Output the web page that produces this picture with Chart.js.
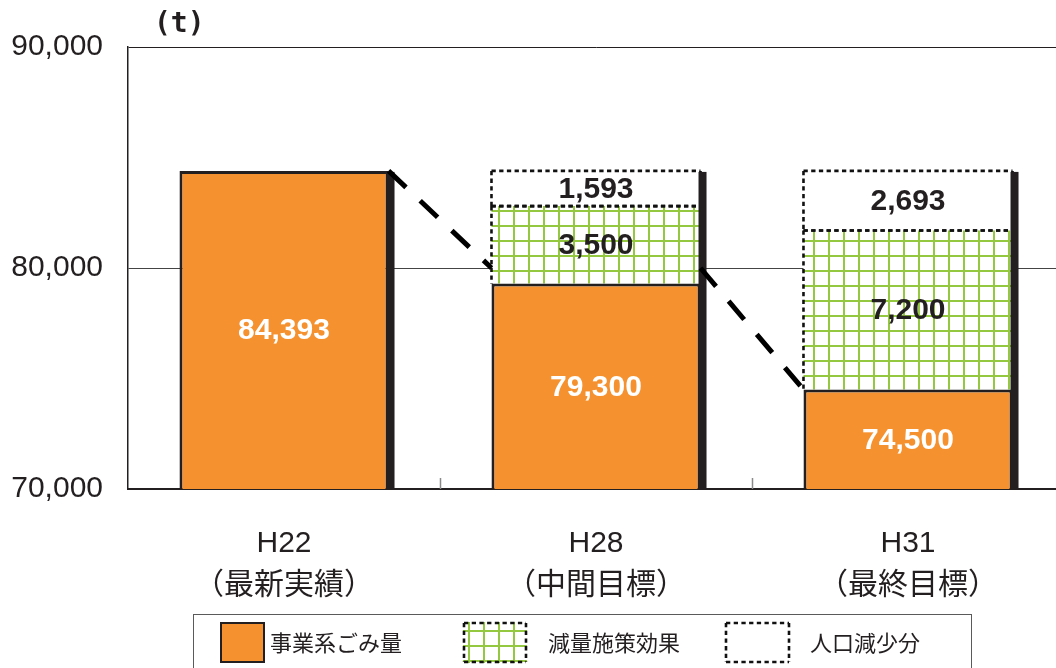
<!DOCTYPE html>
<html>
<head>
<meta charset="utf-8">
<script src="https://cdn.jsdelivr.net/npm/chart.js@4/dist/chart.umd.min.js"></script>
<style>
  html, body { margin: 0; padding: 0; background: #fff; overflow: hidden; }
  #wrap { position: relative; width: 1066px; height: 668px; }
</style>
</head>
<body>
<div id="wrap"><canvas id="c"></canvas></div>
<script>
// Categories (year + target type)
const categories = [['H22', '（最新実績）'], ['H28', '（中間目標）'], ['H31', '（最終目標）']];
// Stacked series values (t)
const wasteAmount = [84393, 79300, 74500];
const reductionEffect = [null, 3500, 7200];
const populationDecrease = [null, 1593, 2693];
// Trend connector: value at the right of one bar -> value at the left of the next
const trendFrom = [84393, 80000];
const trendTo = [80000, 74500];
// Axis
const yMin = 70000, yMax = 90000, yStep = 10000;
const seriesNames = ['事業系ごみ量', '減量施策効果', '人口減少分'];
const unitLabel = '(t)';

const INK = '#231F20';
const ORANGE = '#F5922F';
const GREEN = '#94C840';
const LATIN = "'Liberation Sans', Arial, 'Noto Sans CJK JP', sans-serif";
const CJK = "'Noto Sans CJK JP', 'Liberation Sans', sans-serif";

const canvas = document.getElementById('c');
const ctx0 = canvas.getContext('2d');

// Green square-grid fill
function makeGridPattern() {
  const t = document.createElement('canvas');
  t.width = 15; t.height = 15;
  const g = t.getContext('2d');
  g.fillStyle = '#fff';
  g.fillRect(0, 0, 15, 15);
  g.fillStyle = GREEN;
  g.fillRect(3, 0, 2, 15);
  g.fillRect(0, 0, 15, 2);
  return ctx0.createPattern(t, 'repeat');
}
const gridFill = makeGridPattern();

function dashedLine(ctx, x1, y1, x2, y2) {
  ctx.beginPath();
  ctx.moveTo(x1, y1);
  ctx.lineTo(x2, y2);
  ctx.stroke();
}

function dashedBox(ctx, l, t, r, b, skipBottom) {
  ctx.save();
  ctx.strokeStyle = '#111';
  ctx.lineWidth = 2.6;
  ctx.setLineDash([4.3, 3.4]);
  dashedLine(ctx, l, t, r, t);
  if (!skipBottom) dashedLine(ctx, l, b, r, b);
  dashedLine(ctx, l, t, l, b);
  dashedLine(ctx, r, t, r, b);
  ctx.restore();
}

const SHADOW = 6;

const decorations = {
  id: 'decorations',
  afterDatasetsDraw(chart) {
    const ctx = chart.ctx;
    const area = chart.chartArea;
    const yScale = chart.scales.y;
    const xScale = chart.scales.x;
    const metas = chart.data.datasets.map((d, i) => chart.getDatasetMeta(i));

    ctx.save();
    ctx.beginPath();
    ctx.rect(area.left, area.top - 4, area.right - area.left + 10, area.bottom - area.top + 4);
    ctx.clip();

    // dashed outlines on the green and white segments
    chart.data.datasets.forEach((ds, di) => {
      if (!ds.dashedBorder) return;
      metas[di].data.forEach((el, i) => {
        if (ds.data[i] == null) return;
        const p = el.getProps(['x', 'y', 'base', 'width'], true);
        const b = Math.min(p.base, area.bottom);
        dashedBox(ctx, p.x - p.width / 2, p.y, p.x + p.width / 2, b, di === 1);
      });
    });

    // dark edge on the right of each whole stack
    categories.forEach((c, i) => {
      let top = Infinity, right = 0;
      metas.forEach((m, di) => {
        if (chart.data.datasets[di].data[i] == null) return;
        const p = m.data[i].getProps(['x', 'y', 'width'], true);
        top = Math.min(top, p.y);
        right = p.x + p.width / 2;
      });
      ctx.fillStyle = INK;
      ctx.fillRect(right - 2, top + 1, SHADOW + 2, area.bottom - top - 1);
    });
    ctx.restore();

    // short inner ticks between categories
    const step = xScale.getPixelForValue(1) - xScale.getPixelForValue(0);
    ctx.save();
    ctx.strokeStyle = '#8a8a8a';
    ctx.lineWidth = 1.5;
    categories.forEach((c, i) => {
      const x = Math.round(xScale.getPixelForValue(i) + step / 2) + 0.5;
      if (x >= chart.width) return;
      ctx.beginPath();
      ctx.moveTo(x, area.bottom - 11);
      ctx.lineTo(x, area.bottom);
      ctx.stroke();
    });
    ctx.restore();

    // trend connectors
    ctx.save();
    ctx.strokeStyle = '#000';
    ctx.lineWidth = 5;
    ctx.lineCap = 'butt';
    ctx.setLineDash([24, 19.5]);
    trendFrom.forEach((v, i) => {
      const a = metas[0].data[i].getProps(['x', 'width'], true);
      const b = metas[0].data[i + 1].getProps(['x', 'width'], true);
      const x1 = a.x + a.width / 2;
      const x2 = b.x - b.width / 2;
      dashedLine(ctx, x1, yScale.getPixelForValue(v), x2, yScale.getPixelForValue(trendTo[i]));
    });
    ctx.restore();

    // value labels
    ctx.save();
    ctx.font = "bold 30px " + LATIN;
    ctx.textAlign = 'center';
    ctx.textBaseline = 'middle';
    chart.data.datasets.forEach((ds, di) => {
      metas[di].data.forEach((el, i) => {
        const v = ds.data[i];
        if (v == null) return;
        const p = el.getProps(['x', 'y', 'base'], true);
        const b = Math.min(p.base, area.bottom);
        ctx.fillStyle = di === 0 ? '#fff' : INK;
        ctx.fillText(v.toLocaleString('en-US'), p.x, (p.y + b) / 2 + 1);
      });
    });
    ctx.restore();
  },
  afterDraw(chart) {
    const ctx = chart.ctx;
    const area = chart.chartArea;
    ctx.save();
    // unit
    ctx.fillStyle = INK;
    ctx.font = "bold 28px 'DejaVu Sans Mono', monospace";
    ctx.textAlign = 'left';
    ctx.textBaseline = 'middle';
    ctx.fillText(unitLabel, area.left + 26, 25);

    // legend box
    ctx.strokeStyle = '#5a5a5a';
    ctx.lineWidth = 1;
    ctx.strokeRect(193.5, 614.5, 778, 60);

    const sw = [
      { l: 220, r: 265, tx: 270 },
      { l: 463, r: 527, tx: 548 },
      { l: 725, r: 790, tx: 810 }
    ];
    const st = 622, sb = 663;
    // orange swatch
    ctx.fillStyle = ORANGE;
    ctx.fillRect(sw[0].l, st, sw[0].r - sw[0].l, sb - st);
    ctx.strokeStyle = INK;
    ctx.lineWidth = 2;
    ctx.strokeRect(sw[0].l + 1, st + 1, sw[0].r - sw[0].l - 2, sb - st - 2);
    // green swatch
    ctx.fillStyle = gridFill;
    ctx.fillRect(sw[1].l, st, sw[1].r - sw[1].l, sb - st);
    ctx.restore();
    ctx.save();
    dashedBox(ctx, sw[1].l + 1, st + 1, sw[1].r - 1, sb - 1, false);
    // white swatch
    dashedBox(ctx, sw[2].l + 1, st + 1, sw[2].r - 1, sb - 1, false);
    ctx.fillStyle = INK;
    ctx.font = "22px " + CJK;
    ctx.textAlign = 'left';
    ctx.textBaseline = 'middle';
    seriesNames.forEach((n, i) => ctx.fillText(n, sw[i].tx, 643));
    ctx.restore();
  }
};

new Chart(canvas, {
  type: 'bar',
  data: {
    labels: categories,
    datasets: [
      { label: seriesNames[0], data: wasteAmount, backgroundColor: ORANGE, borderColor: INK,
        borderWidth: 3, borderSkipped: false },
      { label: seriesNames[1], data: reductionEffect, backgroundColor: gridFill, borderWidth: 0,
        dashedBorder: true },
      { label: seriesNames[2], data: populationDecrease, backgroundColor: '#fff', borderWidth: 0,
        dashedBorder: true }
    ]
  },
  options: {
    responsive: true,
    maintainAspectRatio: false,
    animation: false,
    events: [],
    layout: { padding: { top: 47, right: 2, bottom: 0, left: 0 } },
    datasets: { bar: { barPercentage: 0.67, categoryPercentage: 1 } },
    plugins: { legend: { display: false }, tooltip: { enabled: false }, title: { display: false } },
    scales: {
      x: {
        stacked: true,
        grid: { display: false },
        border: { display: true, color: INK, width: 2 },
        ticks: {
          color: INK,
          padding: 26,
          maxRotation: 0,
          autoSkip: false,
          font: { family: LATIN, size: 30, lineHeight: 1.4 }
        },
        afterFit: s => { s.height = 179; }
      },
      y: {
        stacked: true,
        min: yMin,
        max: yMax,
        grid: {
          drawTicks: false,
          lineWidth: 1,
          color: c => c.tick.value === yMin ? 'rgba(0,0,0,0)' : (c.tick.value === yMax ? INK : '#444')
        },
        border: { display: true, color: INK, width: 1.5 },
        ticks: {
          stepSize: yStep,
          padding: 25,
          color: INK,
          font: { family: LATIN, size: 30 },
          callback: v => v.toLocaleString('en-US')
        },
        afterFit: s => { s.width = 128; }
      }
    }
  },
  plugins: [decorations]
});
</script>
</body>
</html>
